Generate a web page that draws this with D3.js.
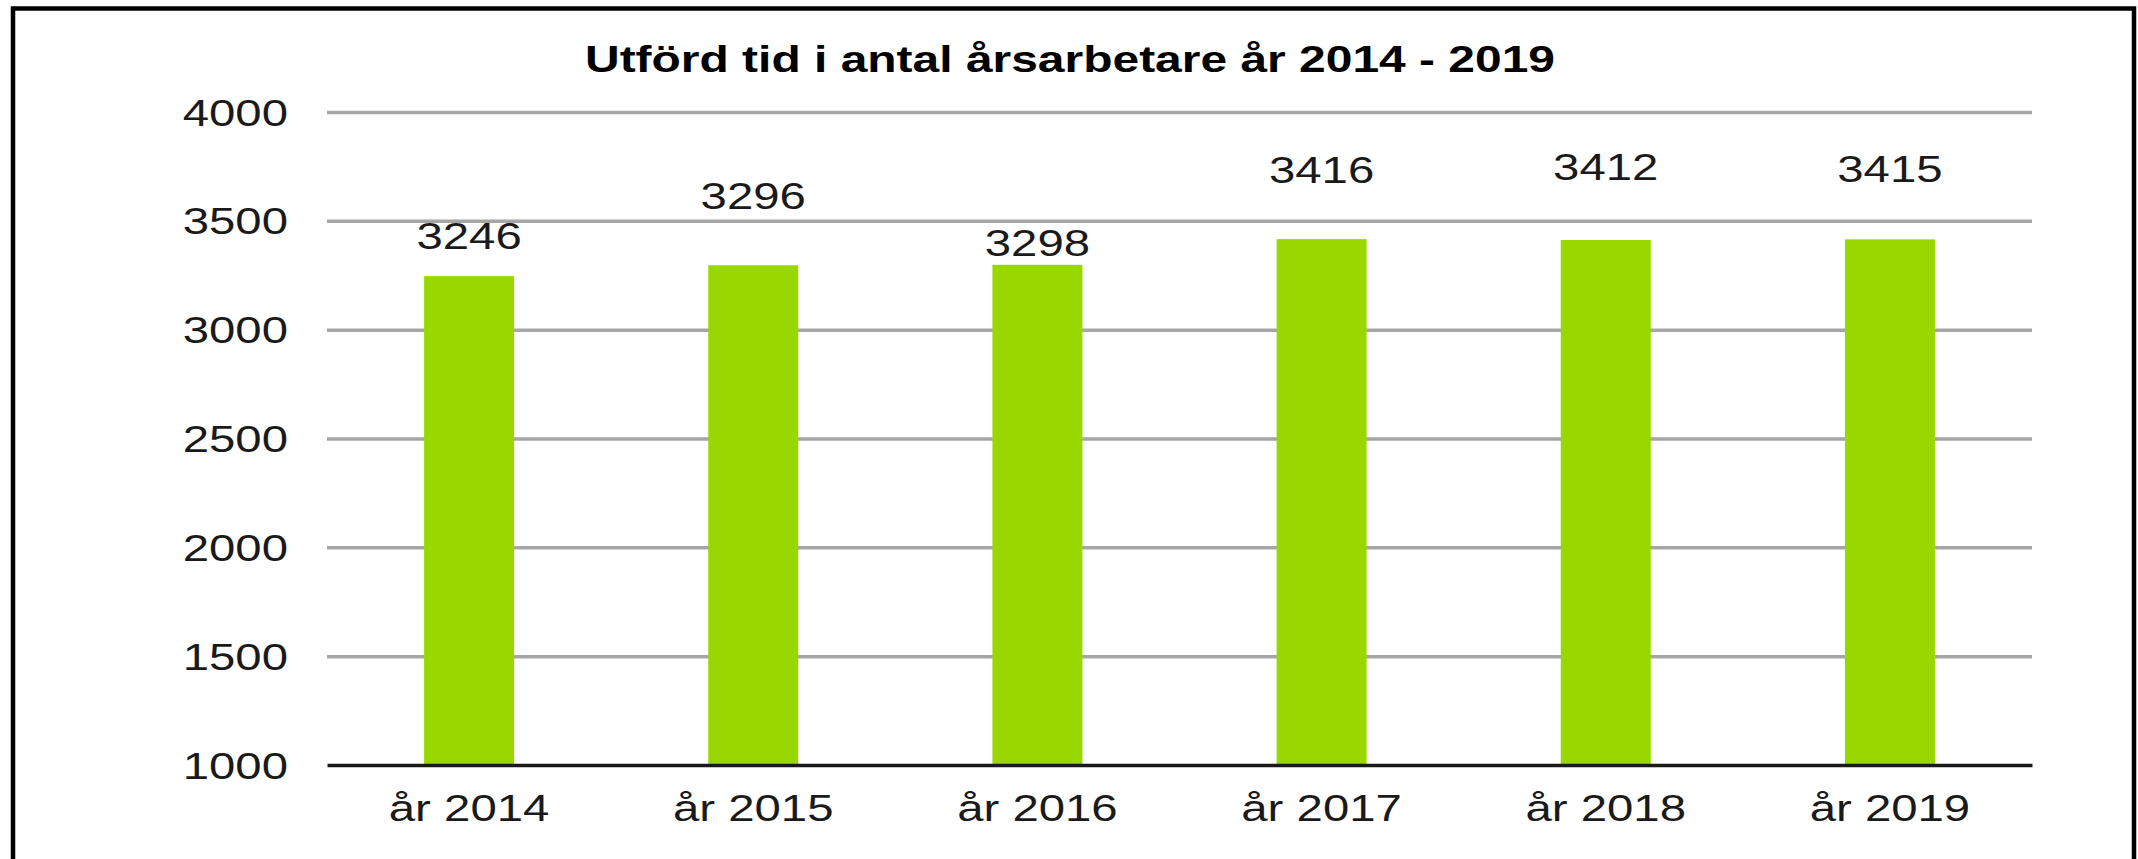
<!DOCTYPE html>
<html>
<head>
<meta charset="utf-8">
<script src="https://cdn.jsdelivr.net/npm/d3@7"></script>
<style>
  html, body { margin: 0; padding: 0; background: #ffffff; }
  svg { display: block; }
  text { font-family: "Liberation Sans", Arial, sans-serif; }
</style>
</head>
<body>
<svg id="chart" width="2138" height="859"></svg>
<script>
// ---- data ----
const title = "Utförd tid i antal årsarbetare år 2014 - 2019";
const categories = ["år 2014", "år 2015", "år 2016", "år 2017", "år 2018", "år 2019"];
const values = [3246, 3296, 3298, 3416, 3412, 3415];
const yTicks = [1000, 1500, 2000, 2500, 3000, 3500, 4000];

// ---- drawing ----
const W = 2138, H = 859;
const svg = d3.select("#chart");
const plot = { left: 327, right: 2032, top: 112, bottom: 765 };
const stretch = 1.28;       // horizontal text stretch seen in the picture
const labelRise = [27, 56, 9, 56, 60, 57]; // data-label distance above bar top (px)

svg.append("rect")
  .attr("x", 13).attr("y", 8.5)
  .attr("width", 2121).attr("height", 900)
  .attr("fill", "none").attr("stroke", "#000").attr("stroke-width", 4.5);

const x = d3.scaleBand()
  .domain(categories)
  .range([plot.left, plot.right])
  .paddingInner(0.6833)
  .paddingOuter(0.6833 / 2);

const y = d3.scaleLinear()
  .domain([d3.min(yTicks), d3.max(yTicks)])
  .range([plot.bottom, plot.top]);

// gridlines
const yAxis = d3.axisLeft(y).tickValues(yTicks).tickSize(0).tickFormat(d3.format("d"));
const gy = svg.append("g").attr("transform", `translate(${plot.left},0)`).call(yAxis);
gy.select(".domain").remove();
gy.selectAll(".tick").each(function(d) {
  const t = d3.select(this);
  if (d !== y.domain()[0]) {
    t.append("line")
      .attr("x1", 0).attr("x2", plot.right - plot.left)
      .attr("stroke", "#a6a6a6").attr("stroke-width", 3.5);
  }
  t.select("text")
    .attr("x", null).attr("dy", null)
    .attr("text-anchor", "end")
    .attr("font-size", 37)
    .attr("fill", "#1a1a1a")
    .attr("transform", `translate(-39,13) scale(${stretch},1)`);
});
gy.selectAll("text").raise();

// bars
svg.append("g").selectAll("rect")
  .data(values)
  .join("rect")
  .attr("x", (d, i) => x(categories[i]))
  .attr("y", d => y(d))
  .attr("width", x.bandwidth())
  .attr("height", d => y(y.domain()[0]) - y(d))
  .attr("fill", "#98d800");

// baseline axis
const xAxis = d3.axisBottom(x).tickSize(0).tickSizeOuter(0);
const gx = svg.append("g").attr("transform", `translate(0,${plot.bottom})`).call(xAxis);
gx.select(".domain").attr("stroke", "#1a1a1a").attr("stroke-width", 3.5);
gx.selectAll(".tick text")
  .attr("y", null).attr("dy", null)
  .attr("font-size", 37)
  .attr("fill", "#1a1a1a")
  .attr("text-anchor", "middle")
  .attr("transform", `translate(0,56) scale(${stretch},1)`);

// data labels
svg.append("g").selectAll("text")
  .data(values)
  .join("text")
  .attr("text-anchor", "middle")
  .attr("font-size", 37)
  .attr("fill", "#1a1a1a")
  .attr("transform", (d, i) => `translate(${x(categories[i]) + x.bandwidth() / 2},${y(d) - labelRise[i]}) scale(${stretch},1)`)
  .text(d => d);

// title
svg.append("text")
  .attr("x", 1070).attr("y", 72)
  .attr("text-anchor", "middle")
  .attr("font-size", 37)
  .attr("font-weight", "bold")
  .attr("fill", "#000")
  .attr("textLength", 970)
  .attr("lengthAdjust", "spacingAndGlyphs")
  .text(title);
</script>
</body>
</html>
